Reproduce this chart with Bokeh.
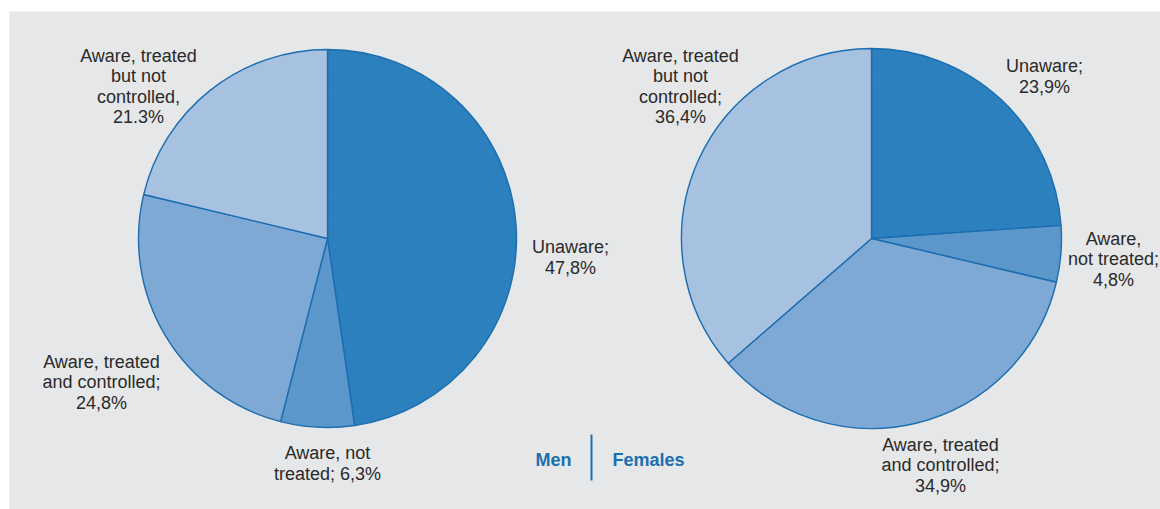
import math
from bokeh.plotting import figure
from bokeh.models import Range1d, ColumnDataSource
from bokeh.core.properties import value
from bokeh.embed import file_html
from bokeh.resources import INLINE

W, H = 1160, 509

# ---- data ----
categories = ["Unaware", "Aware, not treated", "Aware, treated and controlled",
              "Aware, treated but not controlled"]
men_values = [47.8, 6.3, 24.8, 21.3]
female_values = [23.9, 4.8, 34.9, 36.4]
men_labels = ["Unaware;\n47,8%", "Aware, not\ntreated; 6,3%",
              "Aware, treated\nand controlled;\n24,8%",
              "Aware, treated\nbut not\ncontrolled,\n21.3%"]
female_labels = ["Unaware;\n23,9%", "Aware,\nnot treated;\n4,8%",
                 "Aware, treated\nand controlled;\n34,9%",
                 "Aware, treated\nbut not\ncontrolled;\n36,4%"]
legend_labels = ["Men", "Females"]

colors = ["#2b80bd", "#5b97ca", "#7fa9d5", "#a7c1e0"]
outline = "#1a6db0"
text_color = "#2a2a2a"

# layout (pixel coords from top-left)
pies = [
    dict(cx=327, cy=238, r=189, vals=men_values, labels=men_labels,
         lpos=[(570, 257), (327, 463), (101, 382), (138, 86)]),
    dict(cx=871, cy=238, r=190, vals=female_values, labels=female_labels,
         lpos=[(1044, 76), (1113, 259), (940, 465), (680, 86)]),
]

def Y(y):
    return H - y

p = figure(width=W, height=H, output_backend="svg", toolbar_location=None,
           x_range=Range1d(0, W), y_range=Range1d(0, H), min_border=0)
p.axis.visible = False
p.grid.visible = False
p.outline_line_color = None
p.background_fill_color = "white"
p.border_fill_color = "white"

# gray panel
p.quad(left=[9], right=[W + 5], bottom=[Y(512)], top=[Y(11)],
       fill_color="#e6e7e9", line_color=None)

for pie in pies:
    vals = pie["vals"]
    total = sum(vals)
    starts, ends = [], []
    cum = 0.0
    for v in vals:
        starts.append(math.pi / 2 - 2 * math.pi * cum / total)
        cum += v
        ends.append(math.pi / 2 - 2 * math.pi * cum / total)
    src = ColumnDataSource(dict(
        x=[pie["cx"]] * len(vals), y=[Y(pie["cy"])] * len(vals),
        start=starts, end=ends, color=colors, cat=categories))
    p.wedge(x="x", y="y", radius=pie["r"], start_angle="start", end_angle="end",
            direction="clock", fill_color="color", line_color=outline,
            line_width=1.4, source=src)
    lx = [q[0] for q in pie["lpos"]]
    ly = [Y(q[1]) for q in pie["lpos"]]
    p.text(x=lx, y=ly, text=pie["labels"], text_align="center",
           text_baseline="middle", text_font=value("Liberation Sans"),
           text_font_size="18px", text_color=text_color,
           text_line_height=1.02)

# legend-like labels
p.text(x=[553, 648], y=[Y(459), Y(459)], text=legend_labels,
       text_align="center", text_baseline="middle",
       text_font=value("Liberation Sans"), text_font_style="bold",
       text_font_size="18px", text_color="#1a6faf")
p.segment(x0=[591], y0=[Y(434)], x1=[591], y1=[Y(480)],
          line_color="#1a6faf", line_width=2)

open("out.html", "w").write(file_html(p, INLINE))
